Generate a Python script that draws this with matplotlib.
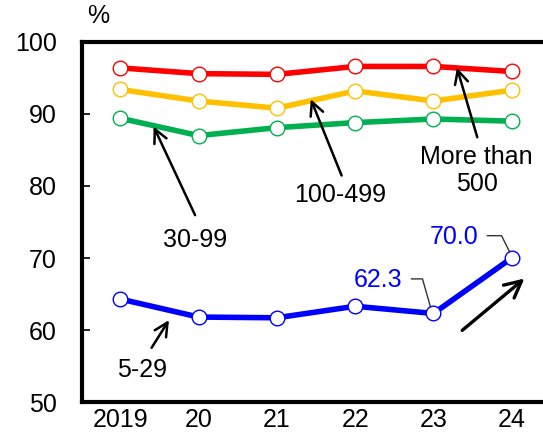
import matplotlib.pyplot as plt

plt.rcParams['font.family'] = ['Liberation Sans', 'DejaVu Sans']

# data
years = ['2019', '20', '21', '22', '23', '24']
size_500 = [96.4, 95.6, 95.5, 96.6, 96.6, 95.9]
size_100 = [93.4, 91.8, 90.8, 93.2, 91.8, 93.3]
size_30 = [89.4, 87.0, 88.1, 88.8, 89.3, 89.0]
size_5 = [64.3, 61.8, 61.7, 63.3, 62.3, 70.0]
series_colors = ['#FF0000', '#FFC000', '#00B050', '#0000FF']

FS = 18

fig = plt.figure(figsize=(5.43, 4.37), dpi=100)
ax = fig.add_axes([0.151, 0.080, 0.862, 0.824])

x = list(range(len(years)))
for vals, c in zip([size_500, size_100, size_30, size_5], series_colors):
    ax.plot(x, vals, color=c, lw=4.0, marker='o', ms=10.5,
            mfc='white', mec=c, mew=1.0, solid_capstyle='round', zorder=3)

ax.set_xlim(-0.49, 5.49)
ax.set_ylim(50, 100)
ax.set_yticks(range(50, 101, 10))
ax.set_xticks(x)
ax.set_xticklabels(years)
ax.tick_params(axis='y', direction='in', length=6, width=1.2, labelsize=FS, pad=18)
ax.tick_params(axis='x', length=0, labelsize=FS, pad=4)
for s in ax.spines.values():
    s.set_linewidth(3)
ax.spines['right'].set_visible(False)

ax.text(-0.28, 102.0, '%', fontsize=FS, ha='center', va='bottom', clip_on=False)

# group labels with arrows
arrow = dict(arrowstyle='->', color='black', lw=1.8, mutation_scale=24)
ax.annotate('', xy=(0.41, 88.6), xytext=(0.97, 75.6), arrowprops=arrow)
ax.text(0.96, 72.5, '30-99', fontsize=FS, ha='center', va='center')
ax.annotate('', xy=(2.42, 92.4), xytext=(2.84, 81.1), arrowprops=arrow)
ax.text(2.81, 78.7, '100-499', fontsize=FS, ha='center', va='center')
ax.annotate('', xy=(4.29, 96.8), xytext=(4.57, 86.4), arrowprops=arrow)
ax.text(4.55, 82.2, 'More than\n500', fontsize=FS, ha='center', va='center',
        linespacing=1.15)
ax.annotate('', xy=(0.64, 61.7), xytext=(0.38, 57.2), arrowprops=arrow)
ax.text(0.28, 54.4, '5-29', fontsize=FS, ha='center', va='center')

# trend arrow
ax.annotate('', xy=(5.19, 67.4), xytext=(4.34, 59.7),
            arrowprops=dict(arrowstyle='->', color='black', lw=2.4, mutation_scale=30))

# value labels with leader lines
ax.plot([3.72, 3.86, 3.97], [67.1, 67.1, 62.9], color='#333333', lw=1.0, zorder=2)
ax.text(3.29, 66.9, '62.3', fontsize=FS, color='#0000FF', ha='center', va='center')
ax.plot([4.69, 4.87, 4.99], [73.1, 73.1, 70.5], color='#333333', lw=1.0, zorder=2)
ax.text(4.27, 72.9, '70.0', fontsize=FS, color='#0000FF', ha='center', va='center')

fig.savefig('out.png', dpi=100)
